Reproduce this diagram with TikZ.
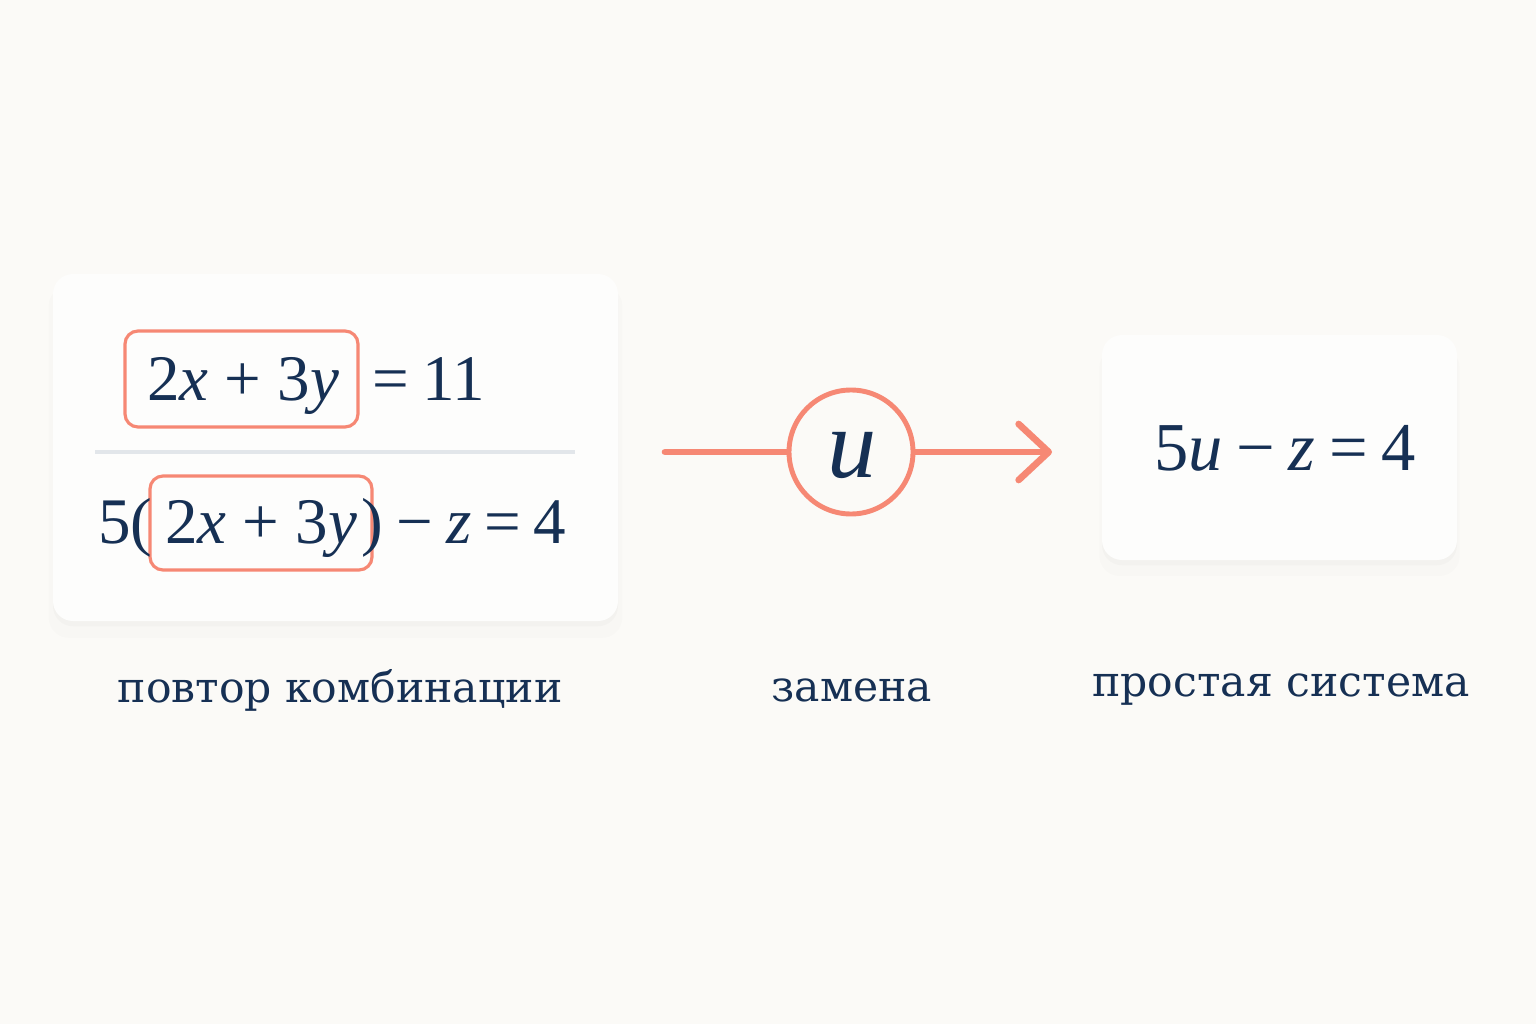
\documentclass[tikz,border=0pt]{standalone}
\usepackage{fontspec}
\usepackage{tikz}
\usetikzlibrary{arrows.meta,positioning,shadows}
\newfontfamily\labelfont{DejaVu Serif}
\newfontfamily\eqfont{Liberation Serif}
\newcommand{\vx}[1]{\textit{#1}}
\newcommand{\gap}{\hspace{0.2em}}
\definecolor{bgcol}{RGB}{251,250,247}
\definecolor{cardcol}{RGB}{253,253,252}
\definecolor{ink}{RGB}{22,48,84}
\definecolor{salmon}{RGB}{246,136,116}
\definecolor{rule}{RGB}{226,230,234}
\tikzset{
  card/.style={draw=none,fill=cardcol,rounded corners=0.2cm,
    drop shadow={opacity=0.025,shadow xshift=0pt,shadow yshift=-4pt,shadow scale=1.015},
    drop shadow={opacity=0.035,shadow xshift=0pt,shadow yshift=-1.5pt}},
  hlbox/.style={draw=salmon,line width=0.9pt,rounded corners=0.13cm,inner sep=0pt},
  eq/.style={text=ink,inner sep=0pt,anchor=base,font=\eqfont\fontsize{18.5}{22}\selectfont},
  caption/.style={text=ink,font=\labelfont\fontsize{12.1}{15}\selectfont}
}
\begin{document}
\begin{tikzpicture}
  \useasboundingbox (0,0) rectangle (15.36,10.24);
  \fill[bgcol] (0,0) rectangle (15.36,10.24);
  % cards
  \node[card,minimum width=5.65cm,minimum height=3.47cm] (combcard) at (3.355,5.765) {};
  \node[card,minimum width=3.55cm,minimum height=2.25cm] (simplecard) at (12.795,5.765) {};
  \draw[rule,line width=1.1pt] (0.95,5.72) -- (5.75,5.72);
  % first equation
  \node[hlbox,minimum width=2.33cm,minimum height=0.96cm] (combtop) at (2.415,6.45) {};
  \node[eq] (combtoptext) at (2.43,6.24) {2\vx{x} + 3\vx{y}};
  \node[eq,anchor=base west] (rhstop) at (3.72,6.24) {=\gap 11};
  % second equation
  \node[hlbox,minimum width=2.22cm,minimum height=0.94cm] (combbot) at (2.61,5.01) {};
  \node[eq] (combbottext) at (2.61,4.81) {2\vx{x} + 3\vx{y}};
  \node[eq,anchor=base east] (lhsbot) at (1.53,4.81) {5(};
  \node[eq,anchor=base west] (rhsbot) at (3.61,4.81) {)\gap −\gap \vx{z}\gap =\gap 4};
  % substitution
  \coordinate (start) at (6.65,5.72);
  \coordinate (finish) at (10.52,5.72);
  \node[draw=salmon,line width=1.4pt,circle,minimum size=1.24cm,inner sep=0pt,fill=bgcol] (subst) at (8.51,5.72) {};
  \node[eq,font=\eqfont\itshape\fontsize{28}{32}\selectfont] (substtext) at (8.52,5.47) {u};
  \draw[salmon,line width=1.9pt,line cap=round] (start) -- (subst);
  \draw[salmon,line width=1.9pt,line cap=round,-{Straight Barb[length=0.3cm,width=0.56cm,line cap=round,round]}] (subst) -- (finish);
  % result
  \node[eq,font=\eqfont\fontsize{19.5}{24}\selectfont] (simpleeq) at (12.85,5.54) {5\vx{u}\gap −\gap \vx{z}\gap =\gap 4};
  % captions
  \node[caption] (capcomb) at (3.40,3.34) {повтор комбинации};
  \node[caption] (capsubst) at (8.52,3.34) {замена};
  \node[caption] (capsimple) at (12.81,3.34) {простая система};
\end{tikzpicture}
\end{document}
